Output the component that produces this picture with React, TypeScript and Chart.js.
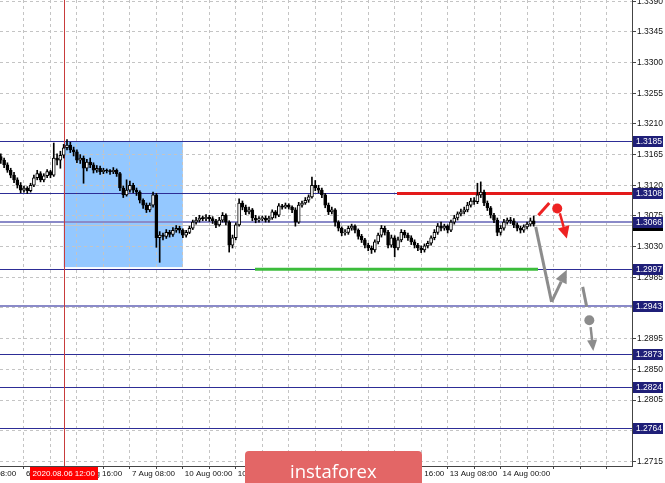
import { useEffect, useRef } from "react";
import { Chart, registerables } from "chart.js";

Chart.register(...registerables);

// ---- data (H1 candles, 5 Aug 17:00 .. 14 Aug 10:00) ----
const FIRST_OPEN = 1.3162;
const closes = [
  1.3157, 1.3150, 1.3142, 1.3135, 1.3128, 1.3120, 1.3113, 1.3116, 1.3112, 1.3120,
  1.3131, 1.3137, 1.3128, 1.3134, 1.3140, 1.3135, 1.3160, 1.3157, 1.3164, 1.3175,
  1.3179, 1.3172, 1.3169, 1.3157, 1.3160, 1.3145, 1.3154, 1.3150, 1.3142, 1.3145,
  1.3140, 1.3142, 1.3141, 1.3140, 1.3142, 1.3137, 1.3116, 1.3106, 1.3113, 1.3120,
  1.3113, 1.3110, 1.3098, 1.3091, 1.3084, 1.3091, 1.3106, 1.3043, 1.3047, 1.3045,
  1.3051, 1.3048, 1.3054, 1.3057, 1.3054, 1.3047, 1.3051, 1.3057, 1.3066, 1.3069,
  1.3072, 1.3071, 1.3073, 1.3071, 1.3068, 1.3062, 1.3069, 1.3076, 1.3066, 1.3032,
  1.3043, 1.3062, 1.3094, 1.3088, 1.3081, 1.3084, 1.3072, 1.3069, 1.3071, 1.3072,
  1.3069, 1.3072, 1.3081, 1.3076, 1.3090, 1.3088, 1.3091, 1.3088, 1.3084, 1.3066,
  1.3091, 1.3094, 1.3098, 1.3103, 1.3120, 1.3116, 1.3113, 1.3106, 1.3091, 1.3081,
  1.3084, 1.3066, 1.3057, 1.3050, 1.3051, 1.3057, 1.3060, 1.3054, 1.3045, 1.3040,
  1.3032, 1.3028, 1.3025, 1.3037, 1.3047, 1.3057, 1.3051, 1.3032, 1.3043, 1.3028,
  1.3040, 1.3051, 1.3047, 1.3043, 1.3037, 1.3032, 1.3028, 1.3025, 1.3031, 1.3035,
  1.3043, 1.3051, 1.3060, 1.3057, 1.3060, 1.3054, 1.3066, 1.3072, 1.3078, 1.3081,
  1.3084, 1.3091, 1.3097, 1.3096, 1.3106, 1.3110, 1.3094, 1.3087, 1.3076, 1.3069,
  1.3051, 1.3057, 1.3066, 1.3069, 1.3068, 1.3062, 1.3057, 1.3054, 1.3059, 1.3063,
  1.3068, 1.3063,
];
const highs = [
  1.3166, 1.3160, 1.3153, 1.3145, 1.3139, 1.3131, 1.3124, 1.3119, 1.3118, 1.3123,
  1.3135, 1.3142, 1.3140, 1.3137, 1.3143, 1.3142, 1.3182, 1.3166, 1.3170, 1.3180,
  1.3187, 1.3183, 1.3176, 1.3172, 1.3165, 1.3163, 1.3158, 1.3160, 1.3153, 1.3149,
  1.3148, 1.3145, 1.3144, 1.3143, 1.3146, 1.3144, 1.3139, 1.3119, 1.3128, 1.3126,
  1.3123, 1.3116, 1.3112, 1.3100, 1.3094, 1.3094, 1.3110, 1.3108, 1.3052, 1.3050,
  1.3055, 1.3054, 1.3058, 1.3061, 1.3060, 1.3056, 1.3054, 1.3060, 1.3069, 1.3073,
  1.3076, 1.3075, 1.3077, 1.3076, 1.3074, 1.3070, 1.3073, 1.3080, 1.3078, 1.3068,
  1.3047, 1.3065, 1.3100, 1.3097, 1.3091, 1.3088, 1.3086, 1.3076, 1.3074, 1.3075,
  1.3075, 1.3075, 1.3084, 1.3083, 1.3093, 1.3092, 1.3094, 1.3093, 1.3090, 1.3087,
  1.3095, 1.3097, 1.3102, 1.3106, 1.3132, 1.3127, 1.3120, 1.3116, 1.3108, 1.3094,
  1.3088, 1.3086, 1.3068, 1.3059, 1.3055, 1.3060, 1.3063, 1.3062, 1.3056, 1.3048,
  1.3042, 1.3035, 1.3031, 1.3040, 1.3050, 1.3061, 1.3060, 1.3054, 1.3047, 1.3046,
  1.3044, 1.3055, 1.3054, 1.3050, 1.3046, 1.3040, 1.3035, 1.3031, 1.3034, 1.3038,
  1.3046, 1.3055, 1.3064, 1.3066, 1.3063, 1.3062, 1.3069, 1.3076, 1.3081, 1.3085,
  1.3088, 1.3095, 1.3101, 1.3102, 1.3123, 1.3125, 1.3113, 1.3097, 1.3089, 1.3079,
  1.3072, 1.3061, 1.3070, 1.3072, 1.3073, 1.3071, 1.3065, 1.3060, 1.3062, 1.3066,
  1.3072, 1.3075,
];
const lows = [
  1.3152, 1.3146, 1.3139, 1.3131, 1.3124, 1.3116, 1.3109, 1.3110, 1.3108, 1.3110,
  1.3118, 1.3128, 1.3125, 1.3125, 1.3131, 1.3131, 1.3133, 1.3150, 1.3145, 1.3160,
  1.3172, 1.3168, 1.3163, 1.3153, 1.3152, 1.3123, 1.3141, 1.3146, 1.3138, 1.3139,
  1.3136, 1.3137, 1.3138, 1.3136, 1.3137, 1.3133, 1.3112, 1.3102, 1.3104, 1.3110,
  1.3109, 1.3105, 1.3094, 1.3086, 1.3080, 1.3081, 1.3088, 1.3029, 1.3007, 1.3040,
  1.3042, 1.3044, 1.3045, 1.3051, 1.3050, 1.3043, 1.3044, 1.3049, 1.3055, 1.3063,
  1.3066, 1.3068, 1.3068, 1.3067, 1.3064, 1.3058, 1.3060, 1.3066, 1.3062, 1.3022,
  1.3028, 1.3040, 1.3060, 1.3084, 1.3077, 1.3078, 1.3068, 1.3065, 1.3066, 1.3068,
  1.3066, 1.3066, 1.3070, 1.3072, 1.3074, 1.3085, 1.3086, 1.3085, 1.3080, 1.3060,
  1.3064, 1.3088, 1.3092, 1.3095, 1.3101, 1.3112, 1.3109, 1.3102, 1.3087, 1.3077,
  1.3078, 1.3060, 1.3053, 1.3046, 1.3047, 1.3048, 1.3054, 1.3050, 1.3041, 1.3036,
  1.3028, 1.3024, 1.3020, 1.3022, 1.3034, 1.3044, 1.3047, 1.3028, 1.3029, 1.3015,
  1.3025, 1.3037, 1.3043, 1.3039, 1.3033, 1.3028, 1.3024, 1.3021, 1.3022, 1.3028,
  1.3032, 1.3040, 1.3048, 1.3053, 1.3054, 1.3050, 1.3052, 1.3063, 1.3069, 1.3075,
  1.3078, 1.3081, 1.3088, 1.3092, 1.3093, 1.3102, 1.3090, 1.3083, 1.3072, 1.3065,
  1.3046, 1.3047, 1.3054, 1.3063, 1.3064, 1.3058, 1.3053, 1.3050, 1.3051, 1.3056,
  1.3060, 1.3060,
];

const yTicks = [
  1.2715, 1.2760, 1.2805, 1.2850, 1.2895, 1.2940, 1.2985, 1.3030,
  1.3075, 1.3120, 1.3165, 1.3210, 1.3255, 1.3300, 1.3345, 1.3390,
];
const xGridIdx = [-1, 7, 15, 23, 31, 39, 47, 55, 63, 71, 79, 87, 95, 103, 111, 119, 127, 135, 143, 151, 159, 167, 175, 183];
const xLabelIdx = [-9, 7, 23, 39, 55, 71, 87, 103, 119, 135, 151];
const xLabels = [
  "5 Aug 08:00", "6 Aug 00:00", "6 Aug 16:00", "7 Aug 08:00", "10 Aug 00:00",
  "10 Aug 16:00", "11 Aug 08:00", "12 Aug 00:00", "12 Aug 16:00", "13 Aug 08:00", "14 Aug 00:00",
];
const cursorIdx = 19;
const cursorLabel = "2020.08.06 12:00";

const levels = [1.3185, 1.3108, 1.3066, 1.2997, 1.2943, 1.2873, 1.2824, 1.2764];
const lightLevels = [1.3066, 1.2943];
const bidPrice = 1.3062;

const zoneIdx = [19, 55];
const zonePrice = [1.3185, 1.3];
const resistanceIdx = [119.7, 191];
const resistancePrice = 1.3108;
const supportIdx = [76.8, 162.3];
const supportPrice = 1.2997;

const redSlash = [[162.4, 1.3076], [165.7, 1.3094]];
const redDot = [168.1, 1.3086];
const redArrow = [[168.9, 1.3079], [171.0, 1.3042]];
const greyPath = [[161.6, 1.3059], [166.4, 1.2949], [171.0, 1.2996]];
const greySeg = [[175.8, 1.2971], [177.0, 1.2942]];
const greyDot = [177.8, 1.2922];
const greyArrow = [[178.2, 1.2912], [179.0, 1.2877]];

const X_MIN = -0.2417;
const X_MAX = 190.695;
const Y_MIN = 1.27082;
const Y_MAX = 1.33918;

const FONT = "'Liberation Sans', Arial, sans-serif";

function drawArrow(ctx: CanvasRenderingContext2D, x1: number, y1: number, x2: number, y2: number, color: string, lw: number, headLen: number, headHalf: number) {
  const ang = Math.atan2(y2 - y1, x2 - x1);
  const bx = x2 - headLen * Math.cos(ang);
  const by = y2 - headLen * Math.sin(ang);
  ctx.strokeStyle = color;
  ctx.lineWidth = lw;
  ctx.lineCap = "butt";
  ctx.beginPath();
  ctx.moveTo(x1, y1);
  ctx.lineTo(bx, by);
  ctx.stroke();
  ctx.fillStyle = color;
  ctx.beginPath();
  ctx.moveTo(x2, y2);
  ctx.lineTo(bx + headHalf * Math.sin(ang), by - headHalf * Math.cos(ang));
  ctx.lineTo(bx - headHalf * Math.sin(ang), by + headHalf * Math.cos(ang));
  ctx.closePath();
  ctx.fill();
}

export default function App() {
  const ref = useRef<HTMLCanvasElement>(null);

  useEffect(() => {
    document.body.style.margin = "0";
    const canvas = ref.current;
    if (!canvas) return;

    const opens = closes.map((_, i) => (i === 0 ? FIRST_OPEN : closes[i - 1]));
    const wickData = closes.map((_, i) => ({ x: i, y: [lows[i], highs[i]] }));
    const bodyData = closes.map((c, i) => ({ x: i, y: [opens[i], c] }));
    const bodyFill = closes.map((c, i) => (c > opens[i] ? "#ffffff" : "#000000"));

    const px = (chart: any, v: number) => chart.scales.x.getPixelForValue(v);
    const py = (chart: any, v: number) => chart.scales.y.getPixelForValue(v);

    const plugin = {
      id: "mt4deco",
      beforeDraw(chart: any) {
        const ctx = chart.ctx as CanvasRenderingContext2D;
        ctx.save();
        ctx.fillStyle = "#ffffff";
        ctx.fillRect(0, 0, chart.width, chart.height);
        const x1 = px(chart, zoneIdx[0]);
        const x2 = px(chart, zoneIdx[1]);
        const y1 = py(chart, zonePrice[0]);
        const y2 = py(chart, zonePrice[1]);
        ctx.fillStyle = "#94c8ff";
        ctx.fillRect(x1, y1, x2 - x1, y2 - y1);
        ctx.restore();
      },
      beforeDatasetsDraw(chart: any) {
        const ctx = chart.ctx as CanvasRenderingContext2D;
        const a = chart.chartArea;
        ctx.save();
        // bid line
        let y = Math.round(py(chart, bidPrice)) + 0.5;
        ctx.strokeStyle = "#c4c4c4";
        ctx.lineWidth = 1;
        ctx.beginPath();
        ctx.moveTo(a.left, y);
        ctx.lineTo(a.right, y);
        ctx.stroke();
        // levels
        levels.forEach((lv) => {
          const light = lightLevels.includes(lv);
          const yy = light ? Math.round(py(chart, lv)) : Math.round(py(chart, lv)) + 0.5;
          ctx.strokeStyle = light ? "#8a8ac8" : "#2d2d96";
          ctx.lineWidth = light ? 2 : 1;
          ctx.beginPath();
          ctx.moveTo(a.left, yy);
          ctx.lineTo(a.right, yy);
          ctx.stroke();
        });
        // crosshair vertical line
        const cx = Math.round(px(chart, cursorIdx)) + 0.5;
        ctx.strokeStyle = "#c83c3c";
        ctx.lineWidth = 1;
        ctx.beginPath();
        ctx.moveTo(cx, a.top);
        ctx.lineTo(cx, a.bottom);
        ctx.stroke();
        // resistance (red) and support (green)
        ctx.lineWidth = 3;
        ctx.strokeStyle = "#e31a1a";
        y = py(chart, resistancePrice);
        ctx.beginPath();
        ctx.moveTo(px(chart, resistanceIdx[0]), y);
        ctx.lineTo(Math.min(px(chart, resistanceIdx[1]), a.right), y);
        ctx.stroke();
        ctx.strokeStyle = "#3cbc3c";
        y = py(chart, supportPrice);
        ctx.beginPath();
        ctx.moveTo(px(chart, supportIdx[0]), y);
        ctx.lineTo(px(chart, supportIdx[1]), y);
        ctx.stroke();
        ctx.restore();
      },
      afterDatasetsDraw(chart: any) {
        const ctx = chart.ctx as CanvasRenderingContext2D;
        ctx.save();
        const P = (p: number[]) => [px(chart, p[0]), py(chart, p[1])];
        // red scenario
        const rs0 = P(redSlash[0]);
        const rs1 = P(redSlash[1]);
        ctx.strokeStyle = "#ee2222";
        ctx.lineWidth = 3;
        ctx.beginPath();
        ctx.moveTo(rs0[0], rs0[1]);
        ctx.lineTo(rs1[0], rs1[1]);
        ctx.stroke();
        const rd = P(redDot);
        ctx.fillStyle = "#ee2222";
        ctx.beginPath();
        ctx.arc(rd[0], rd[1], 5, 0, Math.PI * 2);
        ctx.fill();
        const ra0 = P(redArrow[0]);
        const ra1 = P(redArrow[1]);
        drawArrow(ctx, ra0[0], ra0[1], ra1[0], ra1[1], "#ee2222", 2.5, 12, 6);
        // grey scenario
        const g0 = P(greyPath[0]);
        const g1 = P(greyPath[1]);
        const g2 = P(greyPath[2]);
        ctx.strokeStyle = "#8c8c8c";
        ctx.lineWidth = 3;
        ctx.beginPath();
        ctx.moveTo(g0[0], g0[1]);
        ctx.lineTo(g1[0], g1[1]);
        ctx.stroke();
        drawArrow(ctx, g1[0], g1[1], g2[0], g2[1], "#8c8c8c", 3, 13, 6);
        const s0 = P(greySeg[0]);
        const s1 = P(greySeg[1]);
        ctx.strokeStyle = "#8c8c8c";
        ctx.lineWidth = 3;
        ctx.beginPath();
        ctx.moveTo(s0[0], s0[1]);
        ctx.lineTo(s1[0], s1[1]);
        ctx.stroke();
        const gd = P(greyDot);
        ctx.fillStyle = "#8c8c8c";
        ctx.beginPath();
        ctx.arc(gd[0], gd[1], 5, 0, Math.PI * 2);
        ctx.fill();
        const ga0 = P(greyArrow[0]);
        const ga1 = P(greyArrow[1]);
        drawArrow(ctx, ga0[0], ga0[1], ga1[0], ga1[1], "#8c8c8c", 2.5, 11, 5);
        ctx.restore();
      },
      afterDraw(chart: any) {
        const ctx = chart.ctx as CanvasRenderingContext2D;
        const a = chart.chartArea;
        ctx.save();
        // x labels
        ctx.font = `8px ${FONT}`;
        ctx.textBaseline = "middle";
        ctx.textAlign = "left";
        ctx.fillStyle = "#111111";
        const ly = a.bottom + 8;
        xLabelIdx.forEach((idx, i) => {
          ctx.fillText(xLabels[i], px(chart, idx) + 2, ly);
        });
        // cursor label
        const cx = px(chart, cursorIdx);
        const w = ctx.measureText(cursorLabel).width + 6;
        ctx.fillStyle = "#ff0000";
        ctx.fillRect(Math.round(cx - w / 2), a.bottom + 1, Math.round(w), 13);
        ctx.fillStyle = "#ffffff";
        ctx.textAlign = "center";
        ctx.fillText(cursorLabel, cx, ly);
        // price boxes
        ctx.font = `8.5px ${FONT}`;
        ctx.textAlign = "left";
        const box = (price: number, bg: string) => {
          const yy = py(chart, price);
          ctx.fillStyle = bg;
          ctx.fillRect(a.right + 1, Math.round(yy) - 5, 30, 11);
          ctx.fillStyle = "#ffffff";
          ctx.fillText(price.toFixed(4), a.right + 4, yy + 0.5);
        };
        box(bidPrice, "#000000");
        levels.forEach((lv) => box(lv, "#1f1f78"));
        // watermark
        ctx.fillStyle = "#e36666";
        ctx.beginPath();
        if ((ctx as any).roundRect) {
          (ctx as any).roundRect(245, 451, 177, 40, 4);
        } else {
          ctx.rect(245, 451, 177, 40);
        }
        ctx.fill();
        ctx.fillStyle = "#ffffff";
        ctx.font = "18.5px 'Open Sans', sans-serif";
        ctx.textBaseline = "alphabetic";
        ctx.textAlign = "left";
        ctx.fillText("instaforex", 290, 478);
        ctx.restore();
      },
    };

    const chart = new Chart(canvas, {
      type: "bar",
      data: {
        datasets: [
          {
            label: "body",
            data: bodyData as any,
            backgroundColor: bodyFill,
            borderColor: "#000000",
            borderWidth: 1,
            borderSkipped: false,
            barThickness: 3,
            minBarLength: 1,
            grouped: false,
            order: 0,
          } as any,
          {
            label: "wick",
            data: wickData as any,
            backgroundColor: "#000000",
            borderWidth: 0,
            barThickness: 1,
            grouped: false,
            order: 1,
          } as any,
        ],
      },
      options: {
        responsive: false,
        animation: false,
        events: [],
        layout: { padding: 0 },
        plugins: { legend: { display: false }, tooltip: { enabled: false } },
        scales: {
          x: {
            type: "linear",
            min: X_MIN,
            max: X_MAX,
            offset: false,
            grid: { offset: false, color: "#c4c4c4", lineWidth: 1, drawTicks: true, tickLength: 3, tickColor: "#444444" },
            border: { display: true, color: "#444444", dash: [3, 3] },
            ticks: { display: false },
            afterBuildTicks: (s: any) => {
              s.ticks = xGridIdx.map((v) => ({ value: v }));
            },
            afterFit: (s: any) => {
              s.height = 17;
              s.paddingLeft = 0;
              s.paddingRight = 0;
            },
          } as any,
          y: {
            type: "linear",
            position: "right",
            min: Y_MIN,
            max: Y_MAX,
            beginAtZero: false,
            grid: { color: "#c4c4c4", lineWidth: 1, drawTicks: true, tickLength: 4, tickColor: "#444444" },
            border: { display: true, color: "#444444", dash: [3, 3] },
            ticks: {
              font: { family: FONT, size: 8.5 },
              color: "#111111",
              padding: 1,
              callback: (v: any) => Number(v).toFixed(4),
            },
            afterBuildTicks: (s: any) => {
              s.ticks = yTicks.map((v) => ({ value: v }));
            },
            afterFit: (s: any) => {
              s.width = 33;
              s.paddingTop = 0;
              s.paddingBottom = 0;
            },
          } as any,
        },
      },
      plugins: [plugin],
    });

    return () => chart.destroy();
  }, []);

  return <canvas ref={ref} width={665} height={483} style={{ display: "block" }} />;
}
